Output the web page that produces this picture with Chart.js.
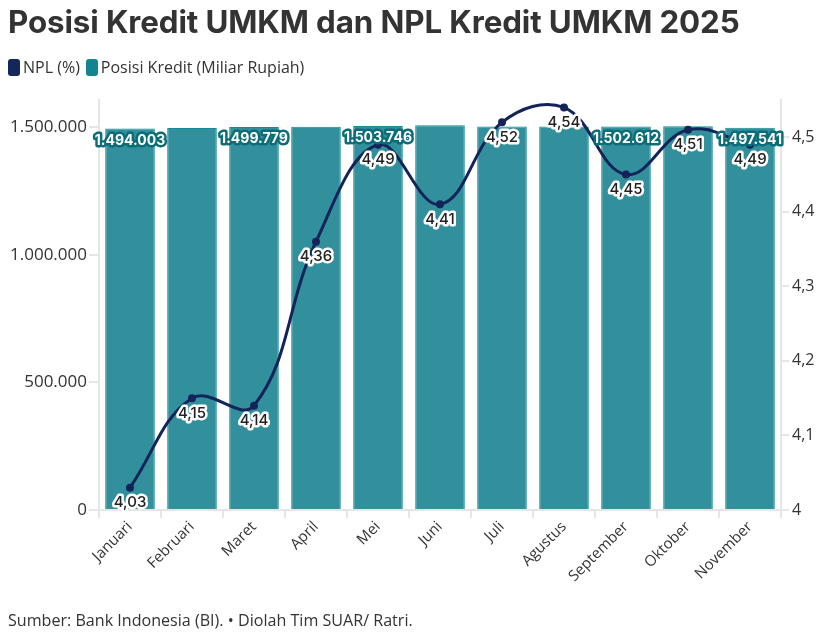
<!DOCTYPE html>
<html>
<head>
<meta charset="utf-8">
<script src="https://cdn.jsdelivr.net/npm/chart.js@4.4.1/dist/chart.umd.min.js"></script>
<style>
  html, body { margin:0; padding:0; background:#fff; }
  body { width:820px; height:636px; position:relative; overflow:hidden; font-family:"Open Sans", sans-serif; color:#333; }
  #title { position:absolute; left:8px; top:0px; font-family:Inter, sans-serif; font-weight:700; font-size:31.3px; color:#333; letter-spacing:-0.1px; line-height:44px; white-space:nowrap; }
  #legend { position:absolute; left:8px; top:56px; font-size:16px; color:#333; display:flex; align-items:center; white-space:nowrap; }
  .sw { display:inline-block; width:12px; height:17px; border-radius:3px; margin-right:3px; }
  .item { display:flex; align-items:center; margin-right:6px; }
  #footer { position:absolute; left:8px; top:609px; font-size:16.1px; color:#333; white-space:nowrap; }
  #wrap { position:absolute; left:0; top:0; width:820px; height:636px; }
</style>
</head>
<body>
<div id="wrap"><canvas id="c" width="820" height="636"></canvas></div>
<div id="title">Posisi Kredit UMKM dan NPL Kredit UMKM 2025</div>
<div id="legend">
  <span class="item"><span class="sw" style="background:#14275c"></span>NPL (%)</span>
  <span class="item"><span class="sw" style="background:#138591"></span>Posisi Kredit (Miliar Rupiah)</span>
</div>
<div id="footer">Sumber: Bank Indonesia (BI). • Diolah Tim SUAR/ Ratri.</div>
<script>
const categories = ["Januari","Februari","Maret","April","Mei","Juni","Juli","Agustus","September","Oktober","November"];
const kredit = [1494003, 1496500, 1499779, 1501500, 1503746, 1507000, 1502000, 1502000, 1502612, 1503000, 1497541];
const kreditLabelShown = [true, false, true, false, true, false, false, false, true, false, true];
const npl = [4.03, 4.15, 4.14, 4.36, 4.49, 4.41, 4.52, 4.54, 4.45, 4.51, 4.49];
const leftTicks = [0, 500000, 1000000, 1500000];
const rightTicks = [4, 4.1, 4.2, 4.3, 4.4, 4.5];

const fmtThousands = v => Math.round(v).toString().replace(/\B(?=(\d{3})+(?!\d))/g, ".");
const fmtComma = v => (Math.round(v*100)/100).toString().replace(".", ",");

const labelPlugin = {
  id: 'labels',
  afterDatasetsDraw(chart) {
    const ctx = chart.ctx;
    ctx.save();
    ctx.textAlign = 'center';
    ctx.textBaseline = 'middle';
    ctx.lineJoin = 'round';
    const lineMeta = chart.getDatasetMeta(0);
    ctx.font = '500 15px Inter, sans-serif';
    lineMeta.data.forEach((pt, i) => {
      const t = fmtComma(npl[i]);
      ctx.lineWidth = 5;
      ctx.strokeStyle = '#ffffff';
      ctx.strokeText(t, pt.x, pt.y + 15);
      ctx.fillStyle = '#222222';
      ctx.fillText(t, pt.x, pt.y + 15);
    });
    const barMeta = chart.getDatasetMeta(1);
    ctx.font = '700 14px Inter, sans-serif';
    barMeta.data.forEach((bar, i) => {
      if (!kreditLabelShown[i]) return;
      const t = fmtThousands(kredit[i]);
      const y = bar.y + 12;
      ctx.lineWidth = 5;
      ctx.strokeStyle = '#0c6d78';
      ctx.strokeText(t, bar.x, y);
      ctx.fillStyle = '#ffffff';
      ctx.fillText(t, bar.x, y);
    });
    ctx.restore();
  }
};

new Chart(document.getElementById('c'), {
  data: {
    labels: categories,
    datasets: [
      {
        type: 'line',
        label: 'NPL (%)',
        data: npl,
        yAxisID: 'y2',
        borderColor: '#14245a',
        backgroundColor: '#14245a',
        borderWidth: 3,
        pointRadius: 4,
        pointBackgroundColor: '#14245a',
        pointBorderWidth: 0,
        tension: 0.4,
        order: 0
      },
      {
        type: 'bar',
        label: 'Posisi Kredit (Miliar Rupiah)',
        data: kredit,
        yAxisID: 'y',
        backgroundColor: '#31909c',
        borderColor: '#118c98',
        borderWidth: 1,
        barPercentage: 0.8,
        categoryPercentage: 1.0,
        order: 1
      }
    ]
  },
  options: {
    responsive: false,
    animation: false,
    devicePixelRatio: 1,
    layout: { padding: { top: 100, left: 0, right: 0, bottom: 0 } },
    plugins: { legend: { display: false }, tooltip: { enabled: false }, title: { display: false } },
    scales: {
      x: {
        grid: { drawOnChartArea: false, drawTicks: true, tickLength: 8, color: '#e6e6e6', lineWidth: 2 },
        border: { color: '#e6e6e6', width: 2 },
        ticks: { color: '#333', font: { family: 'Open Sans', size: 15 }, maxRotation: 45, minRotation: 45, padding: 0, autoSkip: false },
        afterFit(s) { s.height = 126; }
      },
      y: {
        position: 'left',
        min: 0, max: 1606000,
        grid: { drawOnChartArea: false, drawTicks: true, tickLength: 10, color: '#e6e6e6', lineWidth: 2 },
        border: { color: '#e6e6e6', width: 2 },
        afterBuildTicks(s) { s.ticks = leftTicks.map(v => ({ value: v })); },
        ticks: { color: '#333', font: { family: 'Open Sans', size: 17 }, padding: 2, callback: v => fmtThousands(v) },
        afterFit(s) { s.width = 99; }
      },
      y2: {
        position: 'right',
        min: 4, max: 4.55,
        grid: { drawOnChartArea: false, drawTicks: true, tickLength: 8, color: '#e6e6e6', lineWidth: 2 },
        border: { color: '#e6e6e6', width: 2 },
        afterBuildTicks(s) { s.ticks = rightTicks.map(v => ({ value: v })); },
        ticks: { color: '#333', font: { family: 'Open Sans', size: 16 }, padding: 3, callback: v => fmtComma(v) },
        afterFit(s) { s.width = 39; }
      }
    }
  },
  plugins: [labelPlugin]
});
</script>
</body>
</html>
